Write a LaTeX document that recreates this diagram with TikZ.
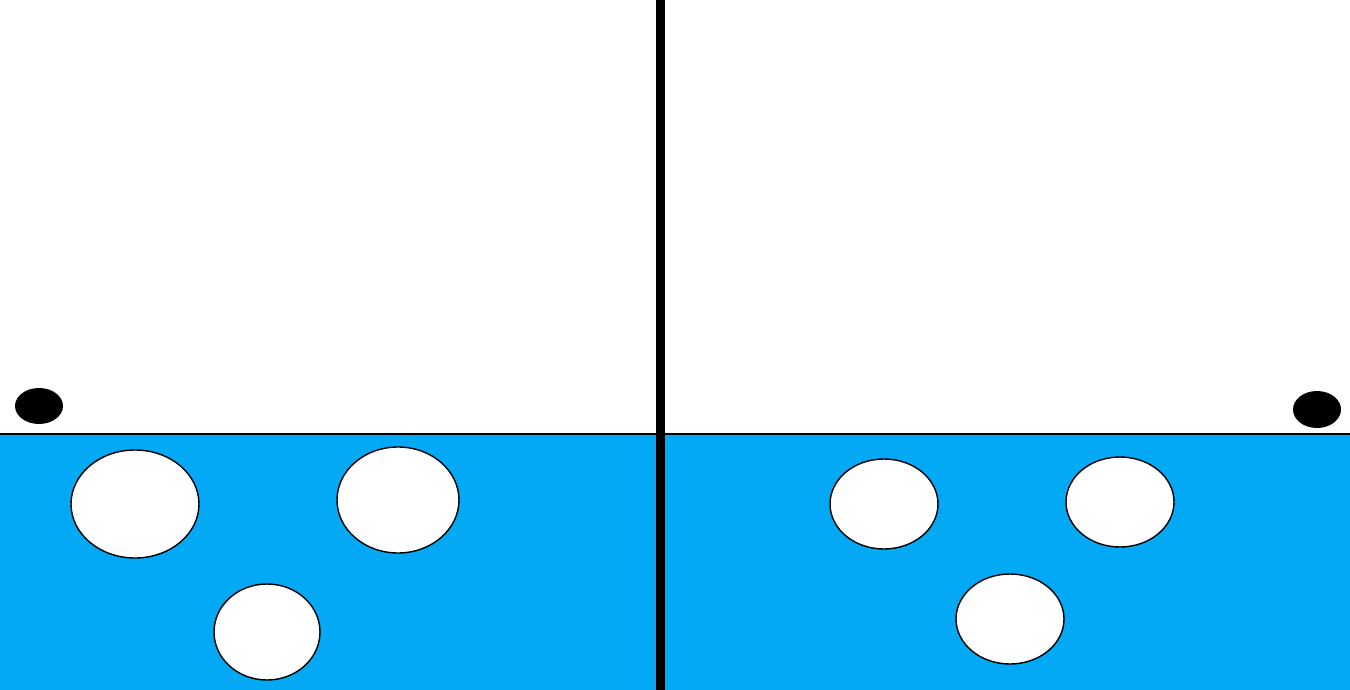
\documentclass[tikz,border=0pt]{standalone}
\definecolor{water}{HTML}{03A9F4}
\begin{document}
\begin{tikzpicture}[x=1pt,y=-1pt,
  bubble/.style={ellipse-ish},
  ellipse-ish/.style={draw=black,line width=1.4pt,fill=white},
  dot/.style={fill=black}]
\useasboundingbox (0,0) rectangle (1350,690);
\fill[white] (0,0) rectangle (1350,690);
\fill[water] (0,434) rectangle (1350,690);
\draw[line width=2pt] (0,434) -- (1350,434);
% left side bubbles
\draw[bubble] (135,504) ellipse [x radius=64,y radius=54];
\draw[bubble] (398,500) ellipse [x radius=61,y radius=53];
\draw[bubble] (267,632) ellipse [x radius=53,y radius=48];
% right side bubbles
\draw[bubble] (884,504) ellipse [x radius=54,y radius=45];
\draw[bubble] (1120,502) ellipse [x radius=54,y radius=45];
\draw[bubble] (1010,619) ellipse [x radius=54,y radius=45];
% dots
\fill[dot] (39,406) ellipse [x radius=24,y radius=18];
\fill[dot] (1317,409.5) ellipse [x radius=24,y radius=18.5];
% divider
\fill[black] (655.5,0) rectangle (664.5,690);
\end{tikzpicture}
\end{document}
